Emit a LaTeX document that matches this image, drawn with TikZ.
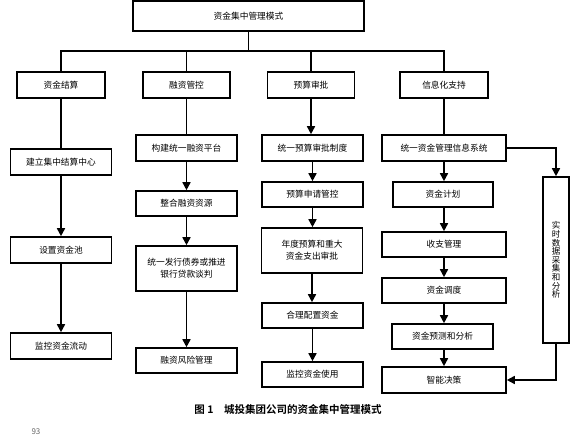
\documentclass[tikz,border=0pt]{standalone}
\usepackage{fontspec}
\setmainfont{Noto Sans CJK SC}
\newfontfamily\cjkb{Noto Sans CJK SC Bold}
\usetikzlibrary{arrows.meta}
\begin{document}
\begin{tikzpicture}[x=1pt,y=-1pt,
  bx/.style={draw,line width=1.6pt,inner sep=0pt,align=center,font=\fontsize{8.7}{12}\selectfont},
  ln/.style={line width=1.6pt},
  ar/.style={line width=1.6pt,-{Triangle[width=8pt,length=8pt]}}]
\useasboundingbox[fill=white] (0,0) rectangle (584,438);
% top
\node[bx,minimum width=231pt,minimum height=30pt] (top) at (248.5,16) {资金集中管理模式};
% level 2
\node[bx,minimum width=88pt,minimum height=26pt] (a) at (61,85) {资金结算};
\node[bx,minimum width=87pt,minimum height=26pt] (b) at (186.5,85) {融资管控};
\node[bx,minimum width=87pt,minimum height=26pt] (c) at (311,85) {预算审批};
\node[bx,minimum width=88pt,minimum height=26pt] (d) at (444,85) {信息化支持};
% column 1
\node[bx,minimum width=101pt,minimum height=26pt] (a1) at (61,162) {建立集中结算中心};
\node[bx,minimum width=101pt,minimum height=26pt] (a2) at (61,250) {设置资金池};
\node[bx,minimum width=101pt,minimum height=26pt] (a3) at (61,346) {监控资金流动};
% column 2
\node[bx,minimum width=101pt,minimum height=26pt] (b1) at (186.5,148) {构建统一融资平台};
\node[bx,minimum width=101pt,minimum height=25pt] (b2) at (186.5,203.5) {整合融资资源};
\node[bx,minimum width=101pt,minimum height=45pt] (b3) at (186.5,268.5) {统一发行债券或推进\\银行贷款谈判};
\node[bx,minimum width=101pt,minimum height=25pt] (b4) at (186.5,360.5) {融资风险管理};
% column 3
\node[bx,minimum width=101pt,minimum height=26pt] (c1) at (312.5,148) {统一预算审批制度};
\node[bx,minimum width=101pt,minimum height=25pt] (c2) at (312.5,194.5) {预算申请管控};
\node[bx,minimum width=101pt,minimum height=45pt] (c3) at (312,250.5) {年度预算和重大\\资金支出审批};
\node[bx,minimum width=101pt,minimum height=25pt] (c4) at (312.5,315.5) {合理配置资金};
\node[bx,minimum width=101pt,minimum height=25pt] (c5) at (312.5,374.5) {监控资金使用};
% column 4
\node[bx,minimum width=124pt,minimum height=26pt] (d1) at (444,148) {统一资金管理信息系统};
\node[bx,minimum width=100pt,minimum height=25pt] (d2) at (443,194.5) {资金计划};
\node[bx,minimum width=124pt,minimum height=25pt] (d3) at (444,244.5) {收支管理};
\node[bx,minimum width=124pt,minimum height=25pt] (d4) at (444,290.5) {资金调度};
\node[bx,minimum width=101pt,minimum height=25pt] (d5) at (442.5,336.5) {资金预测和分析};
\node[bx,minimum width=124pt,minimum height=26pt] (d6) at (444,380) {智能决策};
% side box
\node[bx,minimum width=26pt,minimum height=166pt,font=\fontsize{8.5}{8.6}\selectfont] (s) at (556,260) {实\\时\\数\\据\\采\\集\\和\\分\\析};
% tree connectors
\coordinate (j) at (248.5,51);
\draw[ln] (top.south) -- (j);
\draw[ln] (a.north) |- (j) -| (d.north);
\draw[ln] (b.north) -- (b.north |- j);
\draw[ln] (c.north) -- (c.north |- j);
% column 1
\draw[ln] (a.south) -- (a1.north);
\draw[ar] (a1.south) -- (a2.north);
\draw[ar] (a2.south) -- (a3.north);
% column 2
\draw[ln] (b.south) -- (b1.north);
\draw[ar] (b1.south) -- (b2.north);
\draw[ar] (b2.south) -- (b3.north);
\draw[ar] (b3.south) -- (b4.north);
% column 3
\draw[ar] (c.south) -- (c.south |- c1.north);
\draw[ar] (c1.south) -- (c2.north);
\draw[ar] (c2.south) -- (c2.south |- c3.north);
\draw[ar] (c3.south) -- (c3.south |- c4.north);
\draw[ar] (c4.south) -- (c5.north);
% column 4
\draw[ln] (d.south) -- (d1.north);
\draw[ar] (d1.south) -- (d1.south |- d2.north);
\draw[ar] (d2.south -| d3.north) -- (d3.north);
\draw[ar] (d3.south) -- (d4.north);
\draw[ar] (d4.south) -- (d4.south |- d5.north);
\draw[ar] (d5.south -| d6.north) -- (d6.north);
% side connectors
\draw[ar] (d1.east) -| (s.north);
\draw[ar] (s.south) |- (d6.east);
% caption
\node[font=\cjkb\fontsize{10.5}{12}\selectfont,anchor=center] (cap) at (288,409) {图 1\hspace{1em}城投集团公司的资金集中管理模式};
\node[font=\fontsize{8}{9}\selectfont,text=black!60] (pg) at (36,432) {93};
\end{tikzpicture}
\end{document}
